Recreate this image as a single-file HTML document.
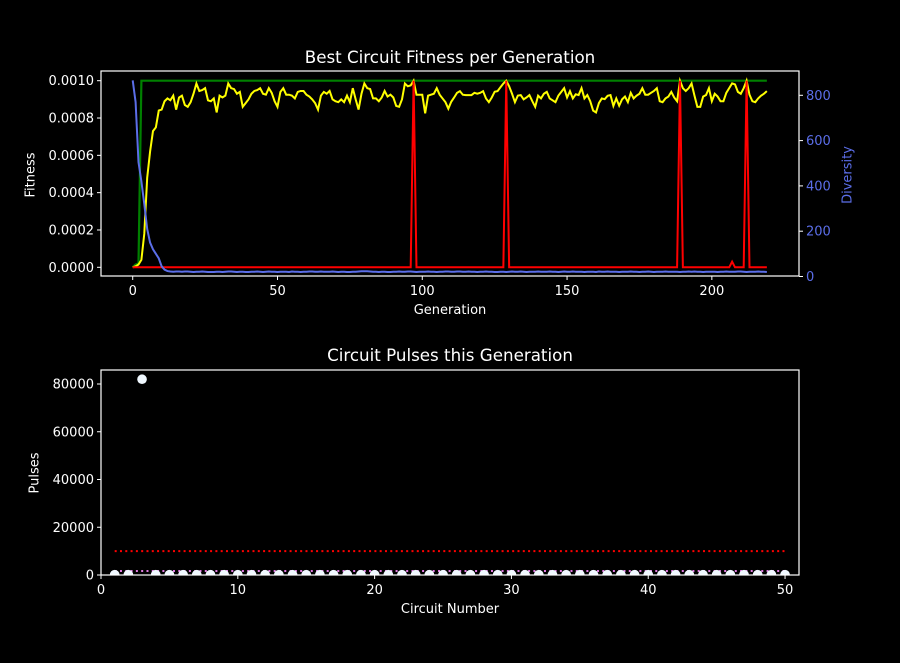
<!DOCTYPE html>
<html><head><meta charset="utf-8"><style>
html,body{margin:0;padding:0;background:#000;}
svg{display:block;font-family:"DejaVu Sans","Liberation Sans",sans-serif;}
</style></head><body>
<svg id="c" width="900" height="663" viewBox="0 0 900 663">
<rect width="900" height="663" fill="#000"/>
</svg>
<script>
// Top chart data (fitness in units of 1e-4)
const generations = Array.from({length:220},(_, i)=>i);
const avgFitness = [0,0.05,0.15,0.4,1.8,4.8,6.2,7.3,7.5,8.4,8.45,8.9,9.05,8.95,9.2,8.45,9.1,9.2,8.7,8.6,
8.85,9.3,9.85,9.45,9.5,9.6,8.95,8.9,9.05,8.3,9.2,9.1,9.2,9.85,9.6,9.55,9.3,9.4,8.6,8.8,
9.0,9.3,9.45,9.5,9.6,9.3,9.25,9.6,9.35,8.9,8.6,9.4,9.6,9.25,9.25,9.2,9.05,9.4,9.45,9.45,
9.25,9.15,9.0,8.8,8.45,9.2,9.4,9.3,9.45,9.0,8.9,8.85,9.0,8.85,9.2,8.85,9.6,9.0,8.45,9.3,
9.85,9.6,9.55,9.05,9.05,8.9,9.1,9.45,9.15,9.25,9.1,8.65,8.6,9.0,9.85,9.7,9.75,10.0,9.25,9.25,
9.25,8.25,9.2,9.25,9.3,9.6,9.25,9.05,8.85,8.5,8.87,9.1,9.35,9.44,9.25,9.23,9.23,9.23,9.35,9.3,
9.35,9.44,9.05,8.85,9.1,9.41,9.44,9.65,9.85,10.0,9.7,9.3,8.85,9.2,9.23,9.0,9.1,9.23,8.9,8.6,
9.2,9.05,9.3,9.4,9.05,8.95,8.85,9.2,9.4,9.6,9.1,9.44,9.05,9.27,9.23,9.6,9.05,9.23,8.9,8.4,
8.3,8.8,9.05,9.01,9.19,9.23,8.65,9.05,8.66,9.0,9.15,8.85,9.35,9.05,9.2,9.3,9.6,9.25,9.25,9.35,
9.45,9.6,8.9,8.85,9.05,9.15,9.4,9.1,8.9,10.0,9.6,9.45,9.6,9.85,9.2,8.6,8.6,9.15,9.23,9.6,
8.9,9.3,9.15,8.9,8.9,9.35,9.6,9.86,9.8,9.4,9.3,9.6,10.0,9.25,8.9,8.85,9.05,9.2,9.3,9.44];
const bestFitness = [0,0.15,0.2,10,10,10,10,10,10,10,10,10,10,10,10,10,10,10,10,10,
10,10,10,10,10,10,10,10,10,10,10,10,10,10,10,10,10,10,10,10,10,10,10,10,10,10,10,10,10,10,
10,10,10,10,10,10,10,10,10,10,10,10,10,10,10,10,10,10,10,10,10,10,10,10,10,10,10,10,10,10,
10,10,10,10,10,10,10,10,10,10,10,10,10,10,10,10,10,10,10,10,10,10,10,10,10,10,10,10,10,10,
10,10,10,10,10,10,10,10,10,10,10,10,10,10,10,10,10,10,10,10,10,10,10,10,10,10,10,10,10,10,
10,10,10,10,10,10,10,10,10,10,10,10,10,10,10,10,10,10,10,10,10,10,10,10,10,10,10,10,10,10,
10,10,10,10,10,10,10,10,10,10,10,10,10,10,10,10,10,10,10,10,10,10,10,10,10,10,10,10,10,10,
10,10,10,10,10,10,10,10,10,10,10,10,10,10,10,10,10,10,10,10,10,10,10,10,10,10,10,10,10,10];
const currentFitness = [
0,0,0,0,0,0,0,0,0,0,0,0,0,0,0,0,0,0,0,0,
0,0,0,0,0,0,0,0,0,0,0,0,0,0,0,0,0,0,0,0,
0,0,0,0,0,0,0,0,0,0,0,0,0,0,0,0,0,0,0,0,
0,0,0,0,0,0,0,0,0,0,0,0,0,0,0,0,0,0,0,0,
0,0,0,0,0,0,0,0,0,0,0,0,0,0,0,0,0,10,0,0,
0,0,0,0,0,0,0,0,0,0,0,0,0,0,0,0,0,0,0,0,
0,0,0,0,0,0,0,0,0,10,0,0,0,0,0,0,0,0,0,0,
0,0,0,0,0,0,0,0,0,0,0,0,0,0,0,0,0,0,0,0,
0,0,0,0,0,0,0,0,0,0,0,0,0,0,0,0,0,0,0,0,
0,0,0,0,0,0,0,0,0,10,0,0,0,0,0,0,0,0,0,0,
0,0,0,0,0,0,0,0.3,0,0,0,0,10,0,0,0,0,0,0,0];
const diversity = [866,770,505,420,320,210,150,120,100,80,45,30,24,22,21,22,22,21,22,22,
21,20,21,21,22,21,20,20,20,21,21,20,21,22,22,21,20,21,21,20,20,21,21,22,21,20,21,22,21,21,
20,21,21,21,20,22,21,21,20,21,21,22,22,21,21,22,21,21,21,22,21,20,21,21,20,20,21,21,22,23,
23,23,22,21,21,20,21,21,20,20,21,21,22,21,21,22,22,21,20,21,21,21,22,21,21,20,21,21,22,22,
21,21,22,22,21,21,22,21,21,20,21,21,22,21,21,20,20,21,21,20,21,22,21,21,22,21,20,21,21,21,
22,21,21,21,22,21,21,20,21,22,21,21,22,21,21,21,20,21,21,21,20,22,21,21,22,21,21,21,20,21,
21,21,22,21,21,20,21,21,22,21,20,21,21,21,22,21,21,21,21,20,21,21,22,21,22,21,21,20,21,21,
21,21,20,21,21,22,21,21,21,22,22,21,20,21,21,21,22,21,21,20];
const xTicksTop = [0,50,100,150,200];
const yTicksFit = [0,2,4,6,8,10];
const yTickFitLabels = ["0.0000","0.0002","0.0004","0.0006","0.0008","0.0010"];
const yTicksDiv = [0,200,400,600,800];

// Bottom chart data
const circuits = [1,2,3,4,5,6,7,8,9,10,11,12,13,14,15,16,17,18,19,20,21,22,23,24,25,26,27,28,29,30,31,32,33,34,35,36,37,38,39,40,41,42,43,44,45,46,47,48,49,50];
const pulses = [150,150,82000,150,150,150,150,150,150,150,150,150,150,150,150,150,150,150,150,150,150,150,150,150,150,150,150,150,150,150,150,150,150,150,150,150,150,150,150,150,150,150,150,150,150,150,150,150,150,150];
const thresholdPulses = [10000];
const meanPulses = [1700];
const xTicksBot = [0,10,20,30,40,50];
const yTicksBot = [0,20000,40000,60000,80000];

const svg = document.getElementById('c');
const NS = 'http://www.w3.org/2000/svg';
function mk(tag, attrs, parent){const e=document.createElementNS(NS,tag);for(const k in attrs)e.setAttribute(k,attrs[k]);(parent||svg).appendChild(e);return e;}

const T = {l:101,r:799,t:71,b:276};
const tx = v => T.l + (v - (-10.95)) / (230.1 - (-10.95)) * (T.r - T.l);
const tyF = v => 267.3 - v * 18.66;
const tyD = v => 276.5 - v * 0.2265;

function pathFrom(xs, ys, fx, fy){return xs.map((x,i)=>(i?'L':'M')+fx(x).toFixed(2)+','+fy(ys[i]).toFixed(2)).join(' ');}

const clipT = mk('clipPath',{id:'clipT'}); mk('rect',{x:T.l,y:T.t,width:T.r-T.l,height:T.b-T.t},clipT);
const gT = mk('g',{'clip-path':'url(#clipT)'});


let p;
p = mk('path',{d:pathFrom(generations,bestFitness,tx,tyF),fill:'none',stroke:'#008000','stroke-width':2.2},gT);


p = mk('path',{d:pathFrom(generations,avgFitness,tx,tyF),fill:'none',stroke:'#ffff00','stroke-width':2},gT);


p = mk('path',{d:pathFrom(generations,currentFitness,tx,tyF),fill:'none',stroke:'#ff0000','stroke-width':2},gT);


p = mk('path',{d:pathFrom(generations,diversity,tx,tyD),fill:'none',stroke:'#5b6ee8','stroke-width':2},gT);



const frT = mk('rect',{x:T.l,y:T.t,width:T.r-T.l,height:T.b-T.t,fill:'none',stroke:'#fff','stroke-width':1.2});



xTicksTop.forEach(v=>{const x=tx(v);mk('line',{x1:x,x2:x,y1:T.b,y2:T.b+4,stroke:'#fff'});
 const t=mk('text',{x:x,y:T.b+19,fill:'#fff','font-size':13,'text-anchor':'middle'});t.textContent=v;
 
 });
yTicksFit.forEach((v,i)=>{const y=tyF(v);mk('line',{x1:T.l-4,x2:T.l,y1:y,y2:y,stroke:'#fff'});
 const t=mk('text',{x:T.l-7,y:y+4.5,fill:'#fff','font-size':13,'text-anchor':'end'});t.textContent=yTickFitLabels[i];
 
 });
yTicksDiv.forEach(v=>{const y=tyD(v);mk('line',{x1:T.r,x2:T.r+4,y1:y,y2:y,stroke:'#fff'});
 const t=mk('text',{x:T.r+7,y:y+4.5,fill:'#5b6ee8','font-size':13,'text-anchor':'start'});t.textContent=v;
 
 });

const B = {l:101,r:799,t:370,b:575};
const bx = v => B.l + v / 51.02 * (B.r - B.l);
const by = v => B.b - v * (191/80000);

const gB = mk('g',{});


let ln = mk('line',{x1:bx(circuits[0]),x2:bx(circuits[circuits.length-1]),y1:by(thresholdPulses[0]),y2:by(thresholdPulses[0]),stroke:'#ff0000','stroke-width':2,'stroke-dasharray':'2 3.3'},gB);


ln = mk('line',{x1:bx(circuits[0]),x2:bx(circuits[circuits.length-1]),y1:by(meanPulses[0]),y2:by(meanPulses[0]),stroke:'#e07be0','stroke-width':2,'stroke-dasharray':'2 3.3'},gB);


const clipB = mk('clipPath',{id:'clipB'}); mk('rect',{x:B.l,y:B.t,width:B.r-B.l,height:B.b-B.t},clipB);
const gP = mk('g',{'clip-path':'url(#clipB)'},gB);
circuits.forEach((c,i)=>{const d=mk('circle',{cx:bx(c),cy:by(pulses[i]),r:4.8,fill:'#f0f8ff'},gP);
 
 });

const frB = mk('rect',{x:B.l,y:B.t,width:B.r-B.l,height:B.b-B.t,fill:'none',stroke:'#fff','stroke-width':1.2});


xTicksBot.forEach(v=>{const x=bx(v);mk('line',{x1:x,x2:x,y1:B.b,y2:B.b+4,stroke:'#fff'});
 const t=mk('text',{x:x,y:B.b+19,fill:'#fff','font-size':13,'text-anchor':'middle'});t.textContent=v;
 
 });
yTicksBot.forEach(v=>{const y=by(v);mk('line',{x1:B.l-4,x2:B.l,y1:y,y2:y,stroke:'#fff'});
 const t=mk('text',{x:B.l-7,y:y+4.5,fill:'#fff','font-size':13,'text-anchor':'end'});t.textContent=v;
 
 });
</script>
<div style="position:absolute;left:0;top:0;width:900px;height:663px;pointer-events:none;font-family:'DejaVu Sans','Liberation Sans',sans-serif;color:#fff;">
<div style="position:absolute;left:0;width:900px;top:47px;text-align:center;font-size:16.7px;">Best Circuit Fitness per Generation</div>
<div style="position:absolute;left:0;width:900px;top:303px;text-align:center;font-size:13px;">Generation</div>
<div style="position:absolute;left:31px;top:175px;font-size:13px;transform:translate(-50%,-50%) rotate(-90deg);white-space:nowrap;">Fitness</div>
<div style="position:absolute;left:848px;top:175px;font-size:13px;color:#5b6ee8;transform:translate(-50%,-50%) rotate(-90deg);white-space:nowrap;">Diversity</div>
<div style="position:absolute;left:0;width:900px;top:345px;text-align:center;font-size:16.7px;">Circuit Pulses this Generation</div>
<div style="position:absolute;left:0;width:900px;top:602px;text-align:center;font-size:13px;">Circuit Number</div>
<div style="position:absolute;left:35px;top:473px;font-size:13px;transform:translate(-50%,-50%) rotate(-90deg);white-space:nowrap;">Pulses</div>
</div>
</body></html>
